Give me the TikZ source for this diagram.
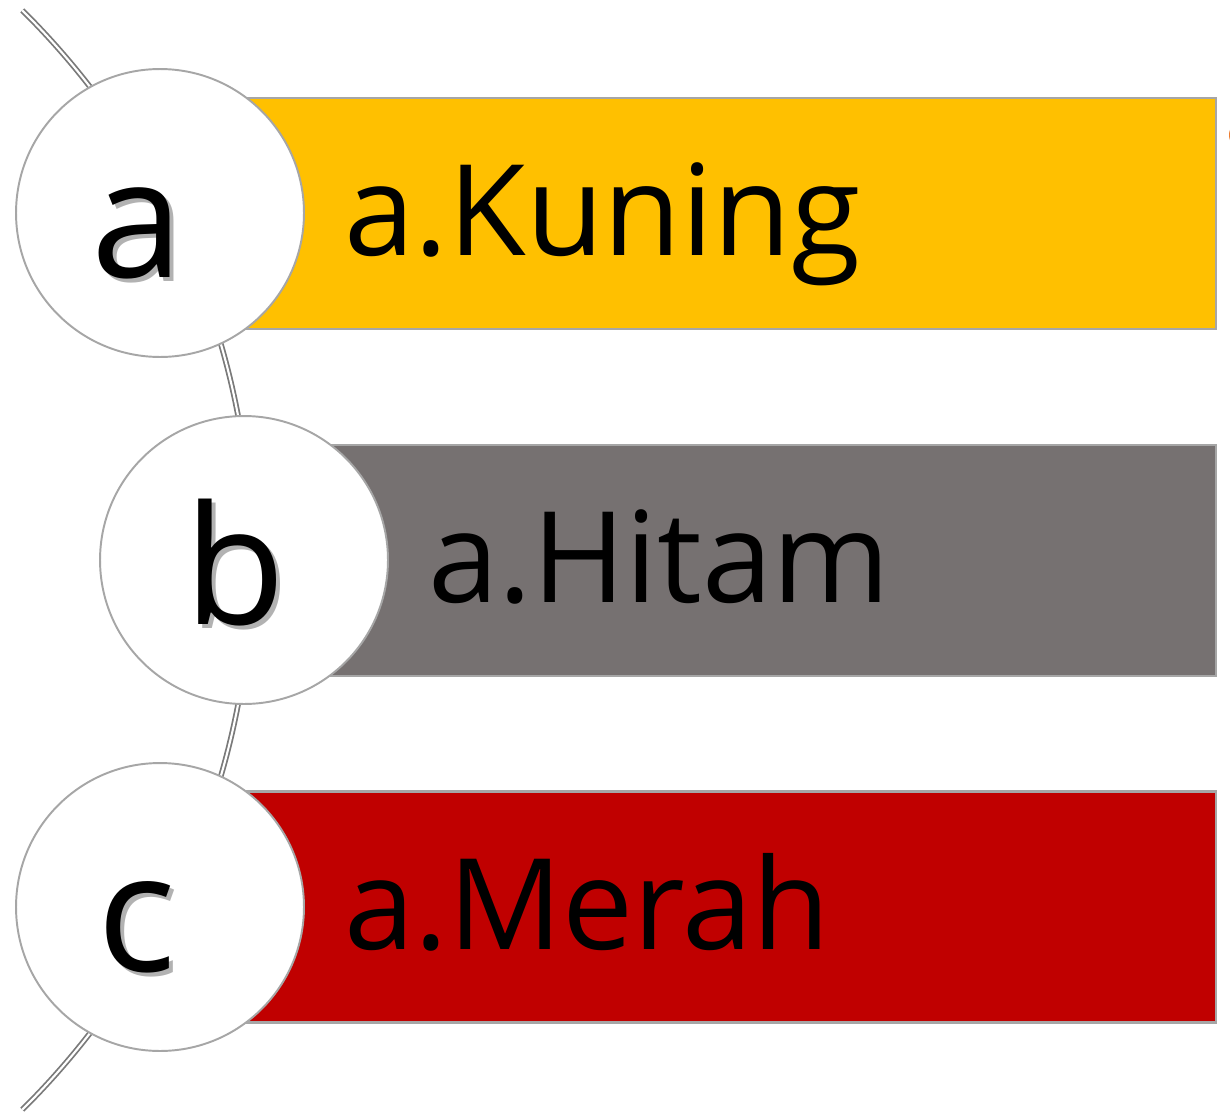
\documentclass[tikz,border=0pt]{standalone}
\usepackage{fontspec}
\setmainfont{Open Sans}
\usepackage{xcolor}
\usepackage{tikz}
\definecolor{kuning}{HTML}{FFC000}
\definecolor{hitam}{HTML}{767171}
\definecolor{merah}{HTML}{C00000}
\definecolor{rim}{HTML}{A6A6A6}
\definecolor{spine}{HTML}{7A7A7A}
\definecolor{oranye}{HTML}{ED7D31}

\begin{document}
\begin{tikzpicture}[x=0.02cm, y=-0.02cm,
    bar/.style={draw=rim, line width=1.3pt, anchor=west, inner sep=0pt, minimum height=4.62cm},
    badge/.style={circle, draw=rim, line width=1.1pt, fill=white, inner sep=0pt, minimum size=5.76cm},
    letter/.style={anchor=base, inner sep=0pt, font=\fontsize{94}{100}\selectfont},
    shade/.style={letter, text=black, opacity=0.3},
    tag/.style={anchor=base west, inner sep=0pt, font=\fontsize{72}{86}\selectfont}]
      \useasboundingbox (0,0) rectangle (1230,1115);
      % spine behind the badges
      \draw[spine, line width=1pt, double=white, double distance=1.2pt]
        (-521.6,560) ++(-45.3:773.3) arc[start angle=-45.3, end angle=45.3, radius=773.3];
      % bars
      \node[bar, fill=kuning, minimum width=21.1cm]  (barA) at (160,213.5) {};
      \node[bar, fill=hitam,  minimum width=19.42cm] (barB) at (244,560.5) {};
      \node[bar, fill=merah,  minimum width=21.1cm]  (barC) at (160,907)   {};
      % badges
      \node[badge] (dotA) at (160,213) {};
      \node[badge] (dotB) at (244,560) {};
      \node[badge] (dotC) at (160,907) {};
      \node[shade]  (shA)  at (141,281) {a};
      \node[letter] (ltrA) at (137,277) {a};
      \node[shade]  (shB)  at (239,628) {b};
      \node[letter] (ltrB) at (235,624) {b};
      \node[shade]  (shC)  at (141,975) {c};
      \node[letter] (ltrC) at (137,971) {c};
      % labels
      \node[tag] (txtA) at (344,255) {a.Kuning};
      \node[tag] (txtB) at (428,602) {a.Hitam};
      \node[tag] (txtC) at (344,949) {a.Merah};
      % cut-off mark at the right edge
      \begin{scope}
        \clip (0,0) rectangle (1230,1115);
        \fill[oranye] (1233,135) ellipse[x radius=4, y radius=8];
      \end{scope}
\end{tikzpicture}
\end{document}
